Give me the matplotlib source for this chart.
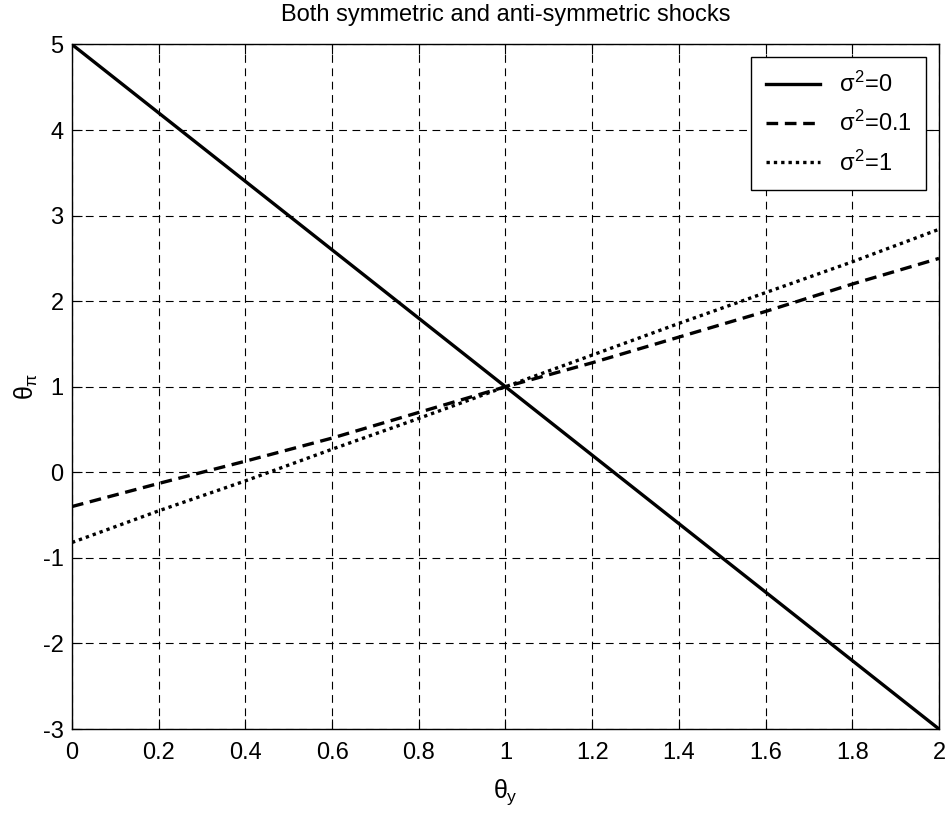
import numpy as np
import matplotlib
matplotlib.use("Agg")
import matplotlib.pyplot as plt

plt.rcParams["font.family"] = ["Liberation Sans", "DejaVu Sans"]
plt.rcParams["mathtext.fontset"] = "custom"
plt.rcParams["mathtext.rm"] = "Liberation Sans"
plt.rcParams["mathtext.it"] = "Liberation Sans"
plt.rcParams["mathtext.bf"] = "Liberation Sans:bold"
plt.rcParams["axes.unicode_minus"] = False

# values
theta_y = [0.0, 0.2, 0.4, 0.6, 0.8, 1.0, 1.2, 1.4, 1.6, 1.8, 2.0]
pi_sig0 = [5.0, 4.2, 3.4, 2.6, 1.8, 1.0, 0.2, -0.6, -1.4, -2.2, -3.0]
pi_sig01 = [-0.40, -0.13, 0.13, 0.40, 0.70, 1.0, 1.28, 1.58, 1.88, 2.20, 2.50]
pi_sig1 = [-0.82, -0.45, -0.10, 0.27, 0.63, 1.0, 1.37, 1.74, 2.10, 2.46, 2.84]

fig = plt.figure(figsize=(9.5, 8.16), dpi=100)
ax = fig.add_axes([0.0758, 0.1066, 0.9126, 0.8389])

ax.plot(theta_y, pi_sig0, color="black", lw=2.4, ls="-", label=r"$\sigma^2$=0")
ax.plot(theta_y, pi_sig01, color="black", lw=2.4, ls=(0, (3.5, 2)), label=r"$\sigma^2$=0.1")
ax.plot(theta_y, pi_sig1, color="black", lw=2.4, ls=(0, (1, 1.2)), label=r"$\sigma^2$=1")

ax.set_xlim(0, 2)
ax.set_ylim(-3, 5)
ax.set_xticks(np.arange(0, 2.01, 0.2))
ax.set_xticklabels(["0", "0.2", "0.4", "0.6", "0.8", "1", "1.2", "1.4", "1.6", "1.8", "2"])
ax.set_yticks(range(-3, 6))
ax.grid(True, color="black", ls=(0, (7, 5)), lw=0.8)
ax.tick_params(direction="in", top=True, right=True, labelsize=17, length=7)
ax.tick_params(axis="x", pad=9)
ax.tick_params(axis="y", pad=6)
for s in ax.spines.values():
    s.set_linewidth(1.0)

ax.set_xlabel(r"$\theta_y$", fontsize=18, labelpad=10)
ax.set_ylabel(r"$\theta_\pi$", fontsize=18, labelpad=2)
ax.set_title("Both symmetric and anti-symmetric shocks", fontsize=17, pad=17)

leg = ax.legend(loc="upper right", fontsize=17, fancybox=False, framealpha=1,
                edgecolor="black", borderaxespad=0.55, handlelength=2.3,
                handletextpad=0.8, labelspacing=0.6, borderpad=0.6)
leg.get_frame().set_linewidth(1.0)

fig.savefig("out.png", dpi=100)
